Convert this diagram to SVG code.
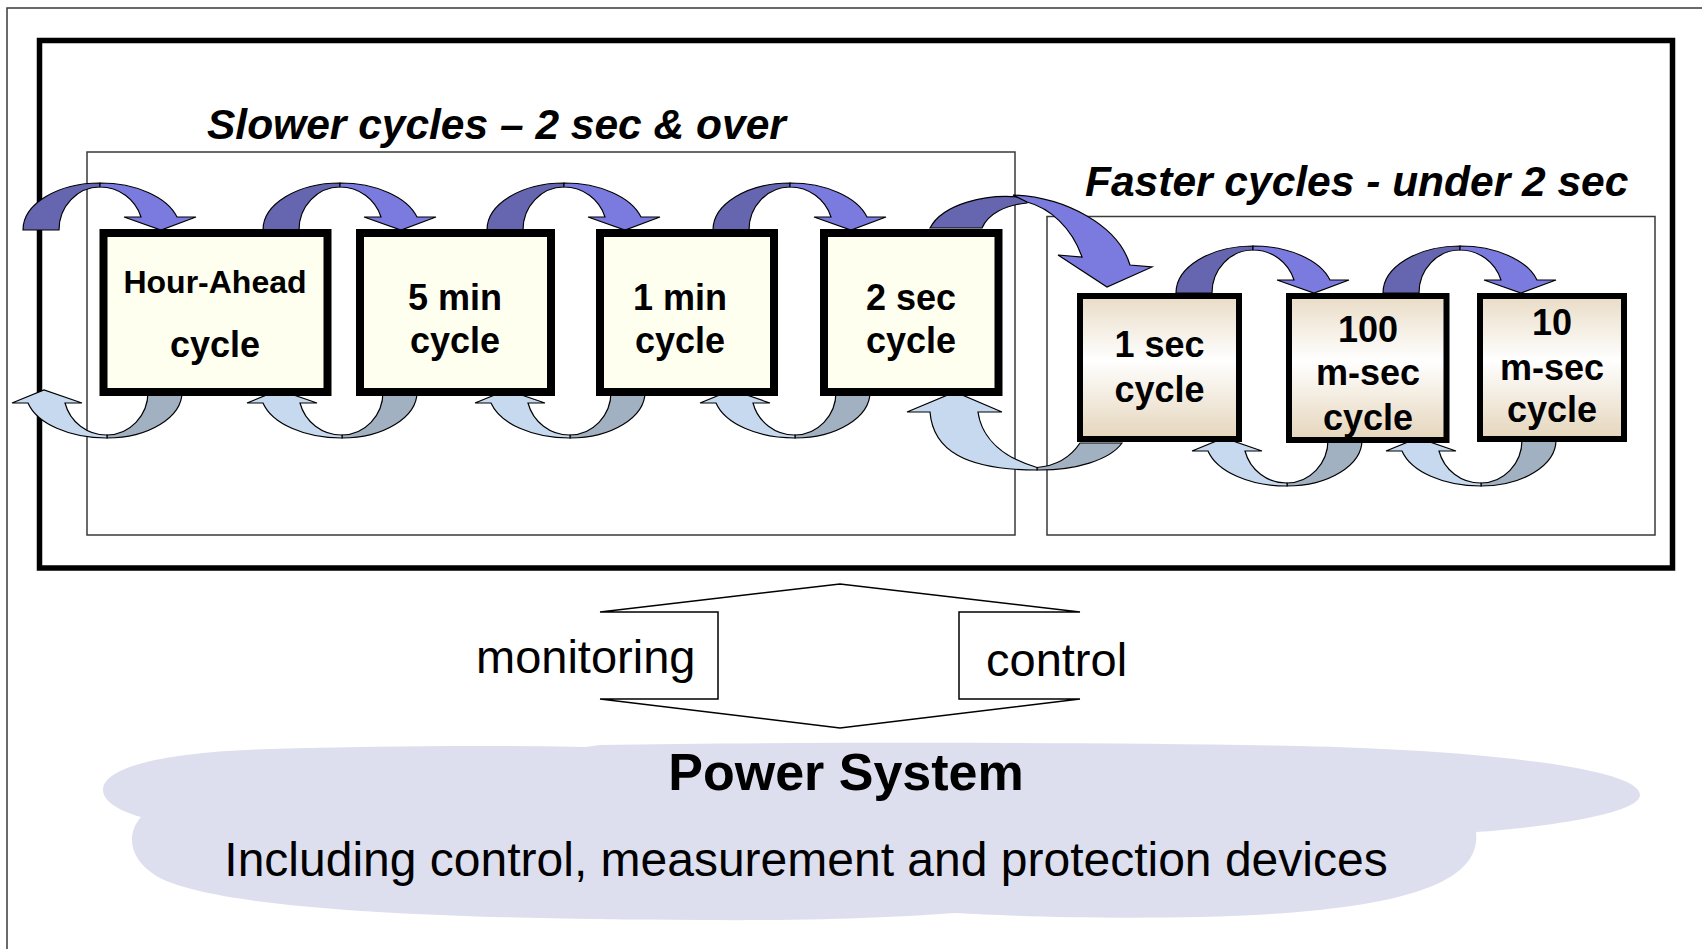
<svg xmlns="http://www.w3.org/2000/svg" width="1702" height="949" viewBox="0 0 1702 949">
<style>
.t{font-family:"Liberation Sans",Arial,Helvetica,sans-serif;fill:#000}
.bi{font-weight:bold;font-style:italic;font-size:42.5px}
.n{font-size:36px;font-weight:bold;text-anchor:middle}
.slow{fill:#fffff0;stroke:#000;stroke-width:8}
.fast{fill:url(#fg);stroke:#000;stroke-width:6}
.dk{fill:#6666b0;stroke:#000;stroke-width:1.2}
.lt{fill:#7b7bdf;stroke:#000;stroke-width:1.2}
.gr{fill:#a1b1c2;stroke:#000;stroke-width:1.2}
.lb{fill:#c6d9ef;stroke:#000;stroke-width:1.2}
.thin{fill:none;stroke:#3a3a3a;stroke-width:1.5}
</style>
<defs>
<linearGradient id="fg" x1="0" y1="0" x2="0" y2="1">
<stop offset="0" stop-color="#e9dcc6"/>
<stop offset="0.45" stop-color="#ffffff"/>
<stop offset="1" stop-color="#e5d5bb"/>
</linearGradient>
<g id="ta">
<path class="dk" d="M23,230 A77,47 0 0 1 100,183 L100,187 A41,43 0 0 0 59,230 Z"/>
<path class="lt" d="M100,183 A80,47 0 0 1 177,217 L196,217 L161,230 L124,217 L141,217 A43,43 0 0 0 100,187 Z"/>
</g>
<g id="ba">
<path class="gr" d="M182,392 A75,46 0 0 1 107,438 L107,435 A41,43 0 0 0 148,392 Z"/>
<path class="lb" d="M107,438 A81,46 0 0 1 28,403 L12,403 L44,390 L82,403 L65,403 A43,43 0 0 0 107,435 Z"/>
</g>
</defs>

<g id="frames">
<rect x="7" y="8" width="1800" height="1000" class="thin"/>
<rect x="39.5" y="40.5" width="1633" height="527.5" fill="none" stroke="#000" stroke-width="5.5"/>
<rect x="87" y="152" width="928" height="383" class="thin"/>
<rect x="1047" y="216.5" width="608" height="318.5" class="thin"/>
</g>

<g id="connectors">
<use href="#ta"/>
<use href="#ta" transform="translate(240,0)"/>
<use href="#ta" transform="translate(464,0)"/>
<use href="#ta" transform="translate(690,0)"/>
<use href="#ta" transform="translate(1153,63)"/>
<use href="#ta" transform="translate(1360,63)"/>
<use href="#ba"/>
<use href="#ba" transform="translate(235,0)"/>
<use href="#ba" transform="translate(463,0)"/>
<use href="#ba" transform="translate(688,0)"/>
<use href="#ba" transform="translate(1180,48)"/>
<use href="#ba" transform="translate(1374,48)"/>
<path class="dk" d="M930,228 C942,205 985,192 1027,198 L1027,203 C1005,205 988,214 982,228 Z"/>
<path class="lt" d="M1013,195 C1065,197 1118,225 1130,265 L1152,267 L1107,287 L1058,255 L1082,257 C1072,228 1050,208 1027,202 Z"/>
<path class="gr" d="M1037,470 C1075,470.5 1110,460 1122,443 L1080,443 C1070,458 1055,466 1037,467.5 Z"/>
<path class="lb" d="M930,412 C933,450 965,470 1037,470 L1037,467.5 C1005,458 982,440 978,412 L1002,412 L955,392 L907,412 Z"/>
</g>

<g id="node-hour-ahead">
<rect class="slow" x="103.5" y="233" width="224" height="159"/>
<text class="t n" x="215" y="293" style="font-size:32px">Hour-Ahead</text>
<text class="t n" x="215" y="357">cycle</text>
</g>
<g id="node-5min">
<rect class="slow" x="360" y="233" width="191" height="159"/>
<text class="t n" x="455" y="310">5 min</text>
<text class="t n" x="455" y="353">cycle</text>
</g>
<g id="node-1min">
<rect class="slow" x="600" y="233" width="174" height="159"/>
<text class="t n" x="680" y="310">1 min</text>
<text class="t n" x="680" y="353">cycle</text>
</g>
<g id="node-2sec">
<rect class="slow" x="824" y="233" width="174.5" height="159"/>
<text class="t n" x="911" y="310">2 sec</text>
<text class="t n" x="911" y="353">cycle</text>
</g>
<g id="node-1sec">
<rect class="fast" x="1080" y="296" width="159" height="143"/>
<text class="t n" x="1159.5" y="357">1 sec</text>
<text class="t n" x="1159.5" y="402">cycle</text>
</g>
<g id="node-100msec">
<rect class="fast" x="1289" y="296" width="157.5" height="144"/>
<text class="t n" x="1368" y="342">100</text>
<text class="t n" x="1368" y="385">m-sec</text>
<text class="t n" x="1368" y="430">cycle</text>
</g>
<g id="node-10msec">
<rect class="fast" x="1480" y="296" width="144" height="143"/>
<text class="t n" x="1552" y="335">10</text>
<text class="t n" x="1552" y="380">m-sec</text>
<text class="t n" x="1552" y="422">cycle</text>
</g>

<g id="titles">
<text class="t bi" x="207" y="139">Slower cycles – 2 sec &amp; over</text>
<text class="t bi" x="1085" y="196">Faster cycles - under 2 sec</text>
</g>

<g id="monitor-control">
<polygon points="600,612 840,584 1080,612 959,612 959,699 1080,699 840,728 600,699 718,699 718,612" fill="#fff" stroke="#000" stroke-width="1.5" stroke-linejoin="miter"/>
<text class="t" x="476" y="673" font-size="47">monitoring</text>
<text class="t" x="986" y="676" font-size="47">control</text>
</g>

<g id="power-system">
<path fill="#dddfee" d="M103,790 C103,768 160,752 271,749 C380,746 480,745 586,747 L600,745 C800,742 1100,742 1300,746 C1480,750 1640,768 1640,795 C1640,812 1560,826 1476,832 C1482,884 1400,912 1200,917 C1100,919 1010,916 955,913 C900,917 820,921 700,920 C420,919 220,908 160,878 C128,860 126,834 141,817 C116,810 103,800 103,790 Z"/>
<text class="t" x="846" y="790" font-size="52" font-weight="bold" text-anchor="middle">Power System</text>
<text class="t" x="806" y="876" font-size="48" text-anchor="middle">Including control, measurement and protection devices</text>
</g>
</svg>
